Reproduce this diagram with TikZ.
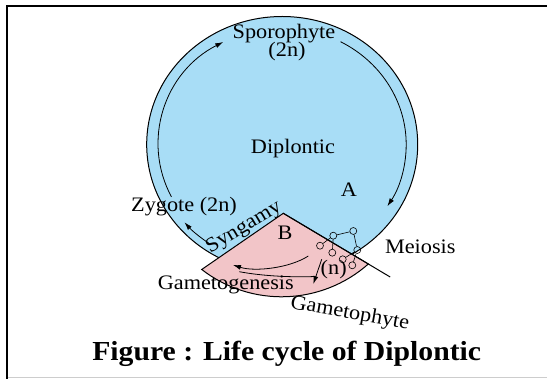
\documentclass[tikz,border=0pt]{standalone}
\usepackage{fontspec}
\setmainfont{Liberation Serif}
\usepackage{graphicx}
\usetikzlibrary{arrows.meta}
\definecolor{diploblue}{RGB}{168,221,246}
\definecolor{haplopink}{RGB}{242,197,200}
\definecolor{rulegray}{RGB}{205,205,205}
% slightly widened lettering
\newcommand{\wide}[1]{\scalebox{1.08}[1]{#1}}
\begin{document}
\begin{tikzpicture}[x=1pt,y=-1pt,
  lbl/.style={font=\fontsize{20.6}{24}\selectfont, inner sep=0pt},
  cyc/.style={line width=0.8pt, -{Latex[length=8pt,width=5pt]}},
  cell/.style={circle, draw, line width=0.6pt, inner sep=0pt, minimum size=7pt},
  outline/.style={line width=1pt}]
\useasboundingbox (0,0) rectangle (547,379);

% frame
\draw[line width=2pt] (7,379) -- (7,6) -- (547,6);
\draw[rulegray, line width=0.6pt] (8,377.5) -- (547,377.5);

% diploid body
\coordinate (ctr) at (282.2,144.5);
\fill[diploblue] (ctr) ellipse [x radius=135.5, y radius=128];
\draw[outline] (ctr) ellipse [x radius=135.5, y radius=128];

% haploid sector: two straight edges from the apex, closed by a shallow arc
\coordinate (apex) at (283.3,213.3);
\coordinate (arcc) at (281.7,166);
\path (arcc) ++(127.7:130.8) coordinate (gl);
\path (arcc) ++(48.5:130.8) coordinate (gr);
\path[fill=haplopink, draw, outline] (apex) -- (gl)
  arc[start angle=127.7, end angle=48.5, radius=130.8] -- cycle;
\draw[outline] (apex) -- ++(30.8:124.4) coordinate (lineend);

% cycle arrows
\draw[cyc] (ctr) ++(153.3:124 and 116.5)
  arc[start angle=153.3, end angle=241.6, x radius=124, y radius=116.5];
\draw[cyc] (ctr) ++(-61.9:124 and 116.5)
  arc[start angle=-61.9, end angle=32, x radius=124, y radius=116.5];
\draw[cyc] (ctr) ++(125.1:128 and 120.5)
  arc[start angle=125.1, end angle=139.8, x radius=128, y radius=120.5];

% gametogenesis arrows
\draw[cyc] (308.3,256) .. controls (290,268) and (255,272) .. (233,265);
\draw[line width=0.8pt] (239.3,271.7) .. controls (262,276) and (292,277.5) .. (315,276.5);
\draw[cyc] (321.7,259.3) -- (313.3,284);

% meiosis cells
\node[cell] (c1) at (333.3,235.7) {};
\node[cell] (c2) at (353.3,231) {};
\node[cell] (c3) at (357.3,250) {};
\node[cell] (c4) at (320,245.7) {};
\node[cell] (c5) at (332.3,252.7) {};
\node[cell] (c6) at (342.7,259.3) {};
\node[cell] (c7) at (352.3,265.3) {};
\draw[line width=0.6pt] (c1) -- (c2) (c2) -- (c3) (c1) -- (c4) (c1) -- (c5)
  (c3) -- (c6) (c3) -- (c7);

% labels
\node[lbl, anchor=base] (spor) at (284,39) {\wide{Sporophyte}};
\node[lbl, anchor=base] (spor2n) at (287,56.5) {\wide{(2n)}};
\node[lbl, anchor=base] (dipl) at (293,154) {\wide{Diplontic}};
\node[lbl, anchor=base] (la) at (349,196.7) {\wide{A}};
\node[lbl, anchor=base] (zyg) at (184,211.5) {\wide{Zygote (2n)}};
\node[lbl, rotate=31] (syn) at (244,227.7) {\wide{Syngamy}};
\node[lbl, anchor=base] (lb) at (285,240) {\wide{B}};
\node[lbl, anchor=base] (mei) at (420.3,253.3) {\wide{Meiosis}};
\node[lbl, anchor=base] (gen) at (225.8,290) {\wide{Gametogenesis}};
\node[lbl, anchor=base, rotate=-10] (gph) at (349,318.5) {\wide{Gametophyte}};
\node[lbl, anchor=base] (hap) at (333.7,275) {\wide{(n)}};

% caption
\node[font=\bfseries\fontsize{27.5}{32}\selectfont, anchor=base, inner sep=0pt] (cap)
  at (286.7,360.7) {\wide{Figure : Life cycle of Diplontic}};
\end{tikzpicture}
\end{document}
